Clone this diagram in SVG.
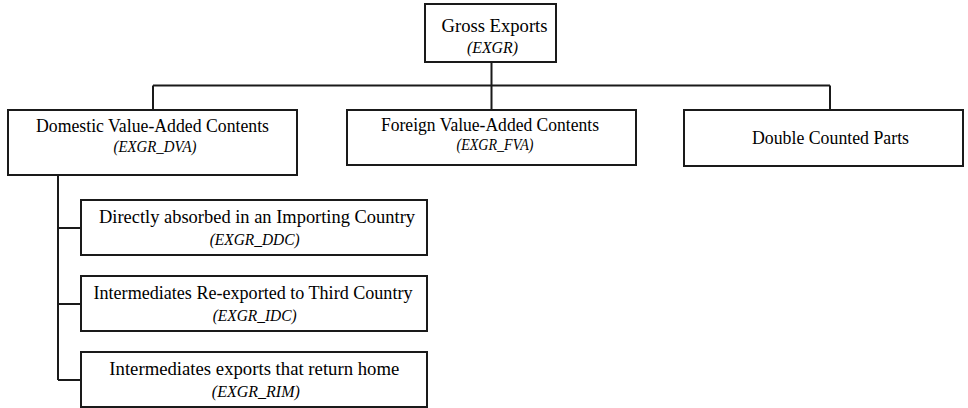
<svg xmlns="http://www.w3.org/2000/svg" width="968" height="408" viewBox="0 0 968 408">
<style>
.box{fill:#fff;stroke:#1a1a1a;stroke-width:2}
.t{font-family:"Liberation Serif","DejaVu Serif",serif;font-size:18px;fill:#000;text-anchor:middle}
.i{font-family:"Liberation Serif","DejaVu Serif",serif;font-size:16.5px;font-style:italic;fill:#000;text-anchor:middle}
.c{fill:none;stroke:#1a1a1a;stroke-width:2}
</style>
<rect width="968" height="408" fill="#fff"/>
<g id="connectors">
<path class="c" d="M491.5,62 V85.5 M153,85.5 H830 M153,85.5 V110 M491.5,85.5 V110 M830,85.5 V110"/>
<path class="c" d="M58,175 V380 M58,228 H81 M58,304 H81 M58,380 H81"/>
</g>
<g id="gross-exports">
<rect class="box" x="425" y="4" width="131" height="58"/>
<text class="t" x="494.5" y="32" textLength="106" lengthAdjust="spacingAndGlyphs">Gross Exports</text>
<text class="i" x="492.5" y="53" textLength="51" lengthAdjust="spacingAndGlyphs">(EXGR)</text>
</g>
<g id="dva">
<rect class="box" x="8" y="110" width="289" height="65"/>
<text class="t" x="152.5" y="131.5" textLength="233" lengthAdjust="spacingAndGlyphs">Domestic Value-Added Contents</text>
<text class="i" x="155" y="151.5" textLength="83" lengthAdjust="spacingAndGlyphs">(EXGR_DVA)</text>
</g>
<g id="fva">
<rect class="box" x="347" y="110" width="289" height="55"/>
<text class="t" x="490" y="131" textLength="218" lengthAdjust="spacingAndGlyphs">Foreign Value-Added Contents</text>
<text class="i" x="495" y="149.5" textLength="77" lengthAdjust="spacingAndGlyphs">(EXGR_FVA)</text>
</g>
<g id="double-counted">
<rect class="box" x="684" y="110" width="279" height="56"/>
<text class="t" x="830.5" y="144" textLength="157" lengthAdjust="spacingAndGlyphs">Double Counted Parts</text>
</g>
<g id="ddc">
<rect class="box" x="81" y="200" width="346" height="55"/>
<text class="t" x="257" y="223" textLength="316" lengthAdjust="spacingAndGlyphs">Directly absorbed in an Importing Country</text>
<text class="i" x="254.7" y="245" textLength="90" lengthAdjust="spacingAndGlyphs">(EXGR_DDC)</text>
</g>
<g id="idc">
<rect class="box" x="81" y="276" width="346" height="55"/>
<text class="t" x="253" y="298.5" textLength="319" lengthAdjust="spacingAndGlyphs">Intermediates Re-exported to Third Country</text>
<text class="i" x="254.7" y="320.5" textLength="84" lengthAdjust="spacingAndGlyphs">(EXGR_IDC)</text>
</g>
<g id="rim">
<rect class="box" x="81" y="352" width="346" height="55"/>
<text class="t" x="254.3" y="375" textLength="290" lengthAdjust="spacingAndGlyphs">Intermediates exports that return home</text>
<text class="i" x="255.8" y="397" textLength="88" lengthAdjust="spacingAndGlyphs">(EXGR_RIM)</text>
</g>
</svg>
